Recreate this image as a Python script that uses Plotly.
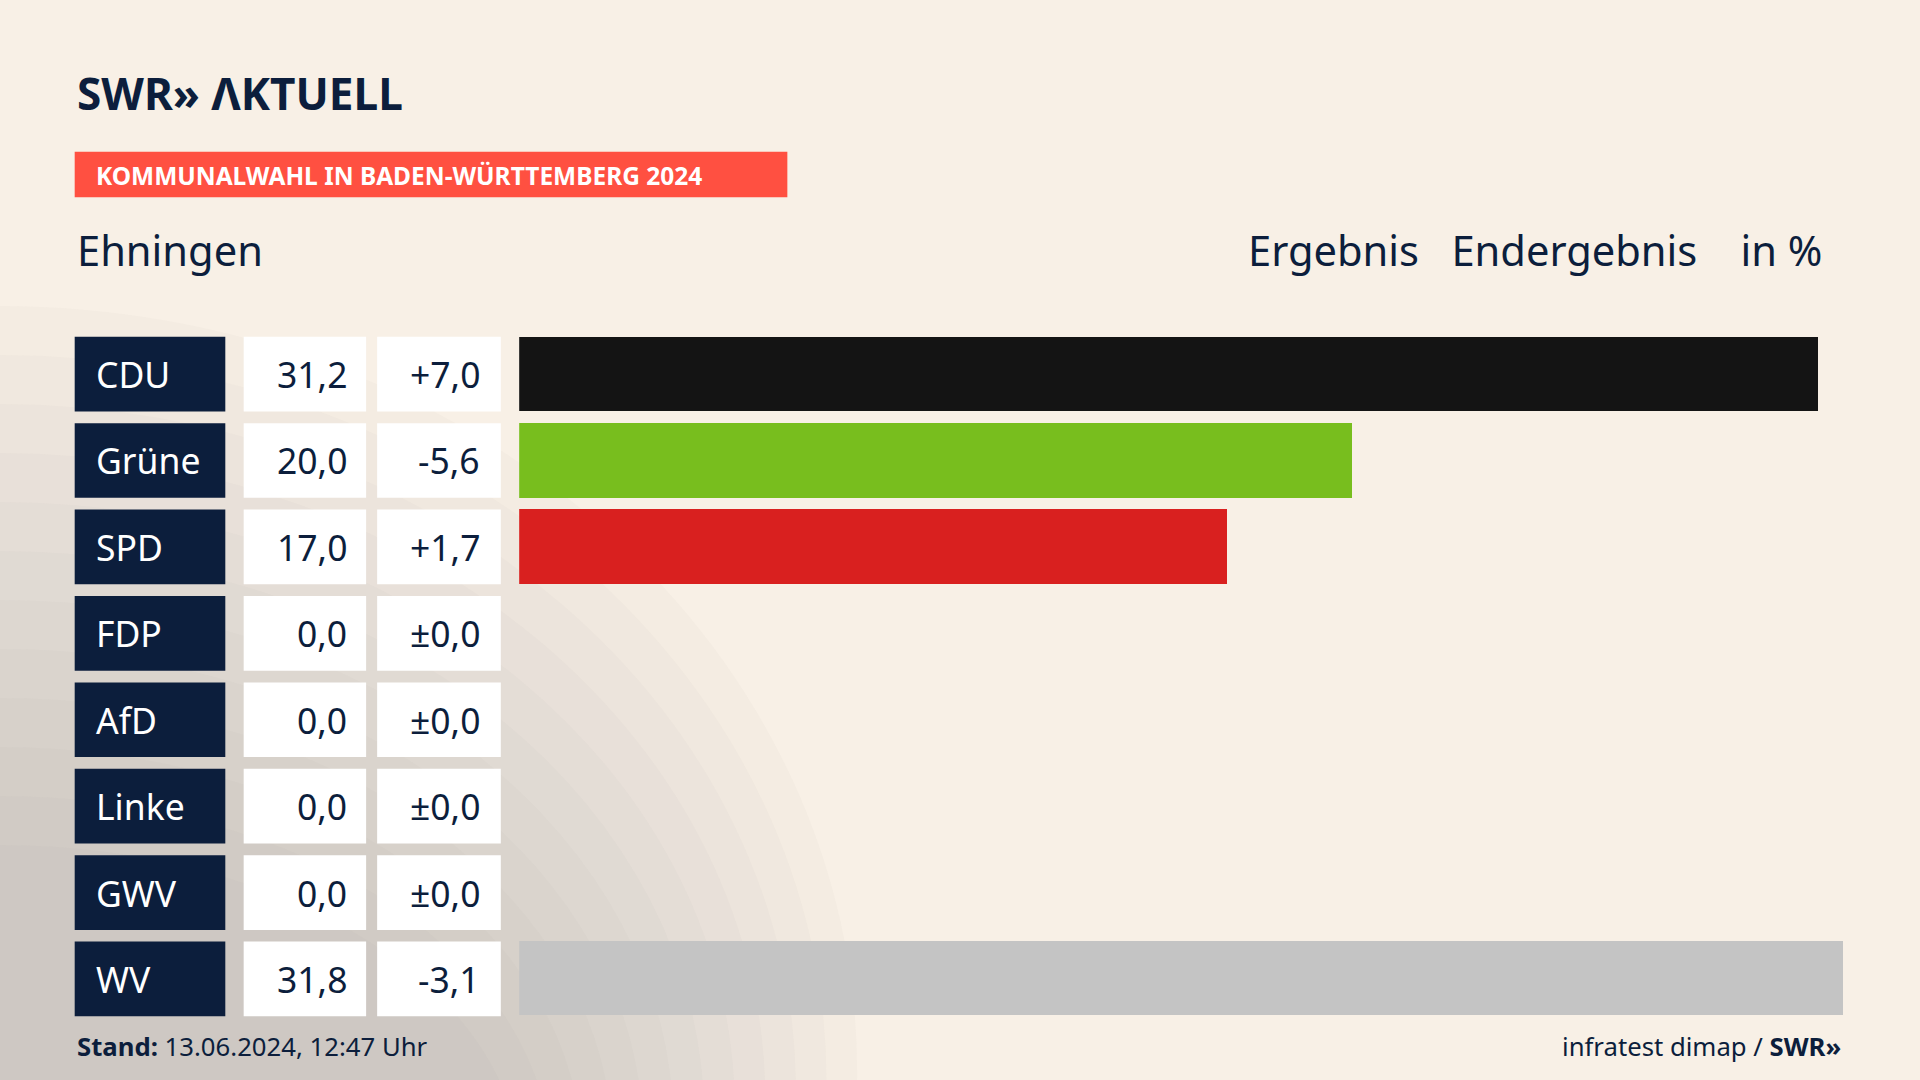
import plotly.graph_objects as go

parties = ["CDU", "Grüne", "SPD", "FDP", "AfD", "Linke", "GWV", "WV"]
results = [31.2, 20.0, 17.0, 0.0, 0.0, 0.0, 0.0, 31.8]
result_labels = ["31,2", "20,0", "17,0", "0,0", "0,0", "0,0", "0,0", "31,8"]
change_labels = ["+7,0", "-5,6", "+1,7", "±0,0", "±0,0", "±0,0", "±0,0", "-3,1"]
colors = ["#141414", "#78be1e", "#d9201f", "#ffe600", "#009ee0", "#be3075", "#8c8c8c", "#c4c4c4"]

W0, H0 = 1568, 882
S = 1920 / W0
NAVY = "#0c1e3c"
FONT = "Noto Sans"


def px(x):
    return x / W0


def py(y):
    return 1 - y / H0


fig = go.Figure()

fig.add_trace(go.Bar(
    x=results, y=parties, orientation="h",
    marker=dict(color=colors, line=dict(width=0)),
    width=0.864, showlegend=False, hoverinfo="skip",
))

shapes = []
annotations = []

# soft grey shading towards the lower left
for i in range(12):
    shapes.append(dict(type="circle", xref="paper", yref="paper", layer="below",
                       x0=px(-700 + i * 25), x1=px(700 - i * 25),
                       y0=py(1500 - i * 25), y1=py(250 + i * 40),
                       fillcolor="#9a9590", opacity=0.035, line=dict(width=0)))

row_h = 61
pitch = 70.57
top = 275
for i, p in enumerate(parties):
    y0 = top + i * pitch
    yc = y0 + row_h / 2
    shapes.append(dict(type="rect", xref="paper", yref="paper",
                       x0=px(61), x1=px(184), y0=py(y0 + row_h), y1=py(y0),
                       fillcolor=NAVY, line=dict(width=0)))
    shapes.append(dict(type="rect", xref="paper", yref="paper",
                       x0=px(199), x1=px(299), y0=py(y0 + row_h), y1=py(y0),
                       fillcolor="white", line=dict(width=0)))
    shapes.append(dict(type="rect", xref="paper", yref="paper",
                       x0=px(308), x1=px(409), y0=py(y0 + row_h), y1=py(y0),
                       fillcolor="white", line=dict(width=0)))
    annotations.append(dict(x=px(77), y=py(yc), xref="paper", yref="paper", text=p,
                            showarrow=False, xanchor="left", yanchor="middle",
                            font=dict(family=FONT, size=29 * S, color="white")))
    annotations.append(dict(x=px(285), y=py(yc), xref="paper", yref="paper",
                            text=result_labels[i], showarrow=False,
                            xanchor="right", yanchor="middle",
                            font=dict(family=FONT, size=29 * S, color=NAVY)))
    annotations.append(dict(x=px(394), y=py(yc), xref="paper", yref="paper",
                            text=change_labels[i], showarrow=False,
                            xanchor="right", yanchor="middle",
                            font=dict(family=FONT, size=29 * S, color=NAVY)))

# title banner
shapes.append(dict(type="rect", xref="paper", yref="paper",
                   x0=px(61), x1=px(643), y0=py(161), y1=py(124),
                   fillcolor="#ff5041", line=dict(width=0)))
annotations += [
    dict(x=px(61), y=py(76), xref="paper", yref="paper", text="<b>SWR» ΛKTUELL</b>",
         showarrow=False, xanchor="left", yanchor="middle",
         font=dict(family=FONT, size=36 * S, color=NAVY)),
    dict(x=px(77), y=py(143), xref="paper", yref="paper",
         text="<b>KOMMUNALWAHL IN BADEN-WÜRTTEMBERG 2024</b>",
         showarrow=False, xanchor="left", yanchor="middle",
         font=dict(family=FONT, size=20 * S, color="white")),
    dict(x=px(61), y=py(204), xref="paper", yref="paper", text="Ehningen",
         showarrow=False, xanchor="left", yanchor="middle",
         font=dict(family=FONT, size=34 * S, color=NAVY)),
    dict(x=px(1490), y=py(204), xref="paper", yref="paper",
         text="Ergebnis   Endergebnis    in %",
         showarrow=False, xanchor="right", yanchor="middle",
         font=dict(family=FONT, size=34 * S, color=NAVY)),
    dict(x=px(61), y=py(855), xref="paper", yref="paper",
         text="<b>Stand:</b> 13.06.2024, 12:47 Uhr",
         showarrow=False, xanchor="left", yanchor="middle",
         font=dict(family=FONT, size=21 * S, color=NAVY)),
    dict(x=px(1505), y=py(855), xref="paper", yref="paper",
         text="infratest dimap / <b>SWR»</b>",
         showarrow=False, xanchor="right", yanchor="middle",
         font=dict(family=FONT, size=21 * S, color=NAVY)),
]

span = (W0 - 424) / 34.0
fig.update_layout(
    width=1920, height=1080,
    margin=dict(l=0, r=0, t=0, b=0),
    paper_bgcolor="#f8f0e6", plot_bgcolor="rgba(0,0,0,0)",
    xaxis=dict(domain=[px(424), 1], range=[0, span], visible=False, fixedrange=True),
    yaxis=dict(domain=[py(829), py(275)], range=[7.43, -0.43], visible=False,
               categoryorder="array", categoryarray=parties),
    shapes=shapes, annotations=annotations, bargap=0,
)

fig.write_html("out.html", config={"displayModeBar": False},
               post_script="document.body.style.margin='0';")
